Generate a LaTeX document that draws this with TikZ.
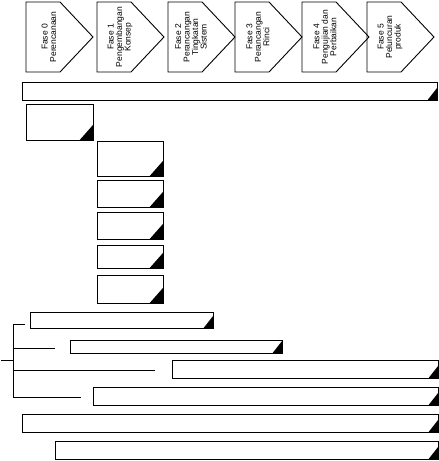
\documentclass[tikz,border=0pt]{standalone}
\usepackage{fontspec}
\setsansfont{Liberation Sans}
\usetikzlibrary{positioning,calc}

\tikzset{
  blok/.style={draw, line width=0.9pt, fill=white, inner sep=0pt, anchor=north west},
  fase/.style={font=\fontsize{8.5}{8.5}\selectfont\sffamily, align=center, rotate=90, inner sep=0pt},
  panah/.style={line width=0.9pt, line join=miter}
}

\begin{document}
\begin{tikzpicture}[x=1pt, y=-1pt]
  \useasboundingbox (0,0) rectangle (439,461);
  \foreach \x/\name/\txt in {26/f0/{Fase 0\\Perencanaan}, 97/f1/{Fase 1\\Pengembangan\\Konsep},
      168/f2/{Fase 2\\Perancangan\\Tingkatan\\Sistem}, 235/f3/{Fase 3\\Perancangan\\Rinci},
      302/f4/{Fase 4\\Pengujian dan\\Perbaikan}, 367/f5/{Fase 5\\Peluncuran\\produk}} {
    \draw[panah] (\x,2) -- ++(34,0) -- ++(33,35) -- ++(-33,35) -- ++(-34,0) -- cycle;
    \node[fase] (\name) at (\x+23,37) {\txt};
  }
  \node[blok, minimum width=415pt, minimum height=18pt] (jadwal) at (22,82) {};
  \node[blok, minimum width=67pt, minimum height=36pt] (induk) at (26,104) {};
  \node[blok, minimum width=66pt, minimum height=35pt] (sub1) at (97,141) {};
  \node[blok, minimum width=66pt, minimum height=27pt] (sub2) at (97,180) {};
  \node[blok, minimum width=66pt, minimum height=27pt] (sub3) at (97,212) {};
  \node[blok, minimum width=66pt, minimum height=23pt] (sub4) at (97,245) {};
  \node[blok, minimum width=66pt, minimum height=28pt] (sub5) at (97,275) {};
  \node[blok, minimum width=183pt, minimum height=16pt] (barA) at (30,312) {};
  \node[blok, minimum width=212pt, minimum height=13pt] (barB) at (70,340) {};
  \node[blok, minimum width=266pt, minimum height=18pt] (barC) at (172,360) {};
  \node[blok, minimum width=345pt, minimum height=18pt] (barD) at (93,387) {};
  \node[blok, minimum width=416pt, minimum height=18pt] (barE) at (22,414) {};
  \node[blok, minimum width=383pt, minimum height=18pt] (barF) at (55,441) {};
  \foreach \n in {induk,sub1,sub2,sub3,sub4,sub5}
    \fill (\n.south east) -- ++(-15,0) -- ++(15,-17) -- cycle;
  \foreach \n in {jadwal,barA,barB,barC,barD,barE,barF}
    \fill (\n.south east) -- ++(-11,0) -- ++(11,-14) -- cycle;
  \coordinate (kiri) at (1,360);
  \coordinate (pusat) at (13.5,360);
  \coordinate (atas) at (13.5,324);
  \coordinate (bawah) at (13.5,397);
  \coordinate (ujungA) at (25,324);
  \coordinate (ujungB) at (55,348);
  \coordinate (ujungC) at (155,370);
  \coordinate (ujungD) at (81,397);
  \draw[panah] (kiri) -- (pusat);
  \draw[panah] (ujungA) -- (atas) -- (bawah) -- (ujungD);
  \draw[panah] (pusat |- ujungB) -- (ujungB);
  \draw[panah] (pusat |- ujungC) -- (ujungC);
\end{tikzpicture}
\end{document}
